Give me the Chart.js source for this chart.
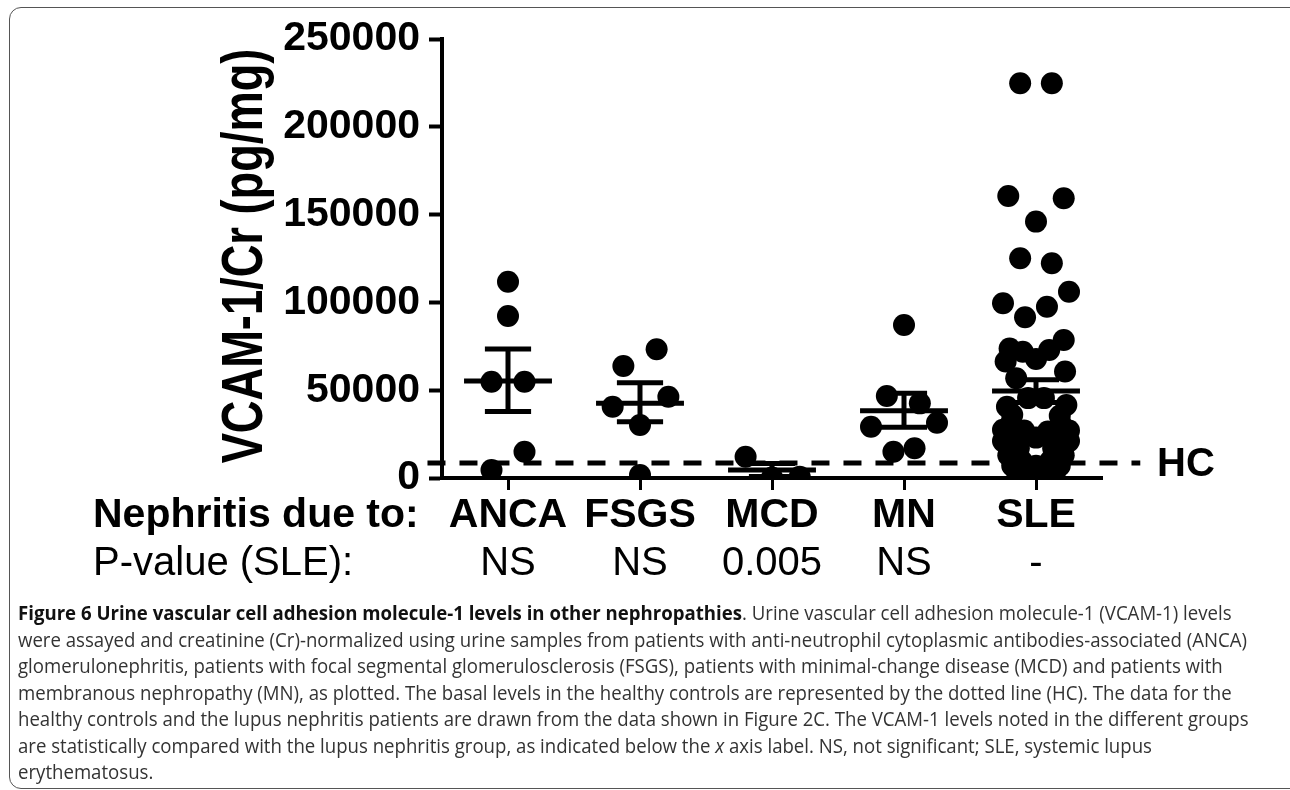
<!DOCTYPE html>
<html>
<head>
<meta charset="utf-8">
<script src="https://cdn.jsdelivr.net/npm/chart.js@4.4.1/dist/chart.umd.min.js"></script>
<style>
  html, body { margin: 0; padding: 0; background: #fff; }
  body { width: 1290px; height: 790px; position: relative; overflow: hidden; }
  #frame { position: absolute; left: 9px; top: 7px; width: 1300px; height: 782px;
           border: 1.5px solid #555; border-radius: 12px; box-sizing: border-box; }
  #chart { position: absolute; left: 0; top: 0; }
  #caption { position: absolute; left: 18px; top: 600px; font-family: "Open Sans", sans-serif;
             font-size: 20px; line-height: 26.5px; color: #333; white-space: nowrap; transform-origin: 0 0; }
  #caption b { color: #111; }
  #caption span { display: inline-block; }
</style>
</head>
<body>
<div id="frame"></div>
<canvas id="chart" width="1290" height="600"></canvas>
<div id="caption">
  <div><span><b>Figure 6 Urine vascular cell adhesion molecule-1 levels in other nephropathies</b>. Urine vascular cell adhesion molecule-1 (VCAM-1) levels</span></div>
  <div><span>were assayed and creatinine (Cr)-normalized using urine samples from patients with anti-neutrophil cytoplasmic antibodies-associated (ANCA)</span></div>
  <div><span>glomerulonephritis, patients with focal segmental glomerulosclerosis (FSGS), patients with minimal-change disease (MCD) and patients with</span></div>
  <div><span>membranous nephropathy (MN), as plotted. The basal levels in the healthy controls are represented by the dotted line (HC). The data for the</span></div>
  <div><span>healthy controls and the lupus nephritis patients are drawn from the data shown in Figure 2C. The VCAM-1 levels noted in the different groups</span></div>
  <div><span>are statistically compared with the lupus nephritis group, as indicated below the <i>x</i> axis label. NS, not significant; SLE, systemic lupus</span></div>
  <div><span>erythematosus.</span></div>
</div>
<script>
// --- Data ---
const categories = ["ANCA", "FSGS", "MCD", "MN", "SLE"];
const pValues = ["NS", "NS", "0.005", "NS", "-"];
const yTitle = "VCAM-1/Cr (pg/mg)";
const rowTitle = "Nephritis due to:";
const pRowTitle = "P-value (SLE):";
const hcLabel = "HC";

const ancaValues = [111800, 92300, 54800, 54800, 15000, 4600];
const ancaOffsets = [0, 0, -0.125, 0.125, 0.125, -0.125];
const fsgsValues = [73300, 63800, 46300, 40600, 30200, 1700];
const fsgsOffsets = [0.126, -0.126, 0.215, -0.207, 0, 0];
const mcdValues = [12100, 300, 700];
const mcdOffsets = [-0.2, 0, 0.21];
const mnValues = [87100, 46700, 42500, 29200, 31500, 15000, 16900];
const mnOffsets = [0, -0.13, 0.12, -0.25, 0.25, -0.08, 0.08];
const sleValues = [
  224800, 224800, 160600, 159300, 146000, 125100, 122300,
  106100, 99500, 97500, 91500, 78600, 73800, 72900, 71900, 67800, 66300,
  60600, 56800,
  45500, 45500, 41600, 40600, 36000, 35500, 31000, 30500,
  27000, 26500, 27500, 27000, 23000,
  21000, 21000, 20500, 20500, 17000, 17000, 13000, 13000,
  10000, 10000, 7000, 7000, 7000, 4000, 4000, 1500, 1500, 1500
];
const sleOffsets = [
  -0.12, 0.12, -0.21, 0.21, 0, -0.12, 0.12,
  0.25, -0.25, 0.083, -0.083, 0.21, -0.2, 0.1, -0.1, 0, -0.23,
  0.22, -0.15,
  -0.06, 0.06, 0.23, -0.22, -0.18, 0.18, -0.19, 0.19,
  -0.09, 0.09, -0.25, 0.25, 0,
  -0.25, 0.25, -0.16, 0.16, -0.13, 0.13, -0.21, 0.21,
  -0.11, 0.11, 0, -0.18, 0.18, -0.08, 0.08, 0, -0.14, 0.14
];

// mean and SEM whiskers as drawn
const groupMeans = [55200, 42500, 4600, 38300, 49500];
const groupUpper = [73500, 54300, 8300, 48200, 56000];
const groupLower = [37800, 32100, 900, 28900, 43000];

const hcLevel = 8500;
const hcFrom = 0.39;
const hcTo = 5.79;

const yMax = 250000;
const yStep = 50000;

const groups = [ancaValues, fsgsValues, mcdValues, mnValues, sleValues];
const offsets = [ancaOffsets, fsgsOffsets, mcdOffsets, mnOffsets, sleOffsets];

const boldFont = '"Liberation Sans", Arial, sans-serif';

// --- Error bars + extra text ---
const extras = {
  id: "extras",
  afterDatasetsDraw(chart) {
    const { ctx, scales: { x, y } } = chart;
    ctx.save();
    ctx.strokeStyle = "#000";
    ctx.lineWidth = 5;
    groupMeans.forEach((m, i) => {
      const cx = x.getPixelForValue(i + 1);
      const half = x.getPixelForValue(1.333) - x.getPixelForValue(1);
      const cap = x.getPixelForValue(1.175) - x.getPixelForValue(1);
      const ym = y.getPixelForValue(m);
      const yu = y.getPixelForValue(groupUpper[i]);
      const yl = y.getPixelForValue(groupLower[i]);
      ctx.beginPath();
      ctx.moveTo(cx - half, ym); ctx.lineTo(cx + half, ym);
      ctx.moveTo(cx, yu); ctx.lineTo(cx, yl);
      ctx.moveTo(cx - cap, yu); ctx.lineTo(cx + cap, yu);
      ctx.moveTo(cx - cap, yl); ctx.lineTo(cx + cap, yl);
      ctx.stroke();
    });
    ctx.restore();
  },
  afterDraw(chart) {
    const { ctx, scales: { x, y } } = chart;
    ctx.save();
    ctx.fillStyle = "#000";

    // y axis title, tall and narrow like the original
    ctx.save();
    ctx.translate(262, 256);
    ctx.rotate(-Math.PI / 2);
    ctx.scale(0.78, 1);
    ctx.font = "bold 58px " + boldFont;
    ctx.textAlign = "center";
    ctx.textBaseline = "alphabetic";
    ctx.fillText(yTitle, 0, 0);
    ctx.restore();

    // row headers
    ctx.textAlign = "left";
    ctx.textBaseline = "middle";
    ctx.font = "bold 41px " + boldFont;
    ctx.fillText(rowTitle, 93, 516);
    ctx.font = "40px " + boldFont;
    ctx.fillText(pRowTitle, 93, 564);

    // p-values
    ctx.textAlign = "center";
    pValues.forEach((p, i) => {
      ctx.fillText(p, x.getPixelForValue(i + 1), 564);
    });

    // HC label
    ctx.textAlign = "left";
    ctx.font = "bold 40px " + boldFont;
    ctx.fillText(hcLabel, 1157, y.getPixelForValue(hcLevel) + 2);
    ctx.restore();
  }
};

const datasets = groups.map((vals, i) => ({
  type: "scatter",
  data: vals.map((v, j) => ({ x: i + 1 + offsets[i][j], y: v })),
  backgroundColor: "#000",
  borderWidth: 0,
  pointRadius: 11,
  pointHoverRadius: 11,
  order: 1
}));
datasets.push({
  type: "line",
  data: [{ x: hcFrom, y: hcLevel }, { x: hcTo, y: hcLevel }],
  borderColor: "#000",
  borderWidth: 5,
  borderDash: [18, 14],
  pointRadius: 0,
  clip: false,
  order: 10
});

new Chart(document.getElementById("chart"), {
  type: "scatter",
  data: { datasets },
  options: {
    responsive: false,
    animation: false,
    devicePixelRatio: 1,
    layout: { padding: { left: 0, right: 188, top: 39, bottom: 0 } },
    plugins: { legend: { display: false }, tooltip: { enabled: false } },
    scales: {
      x: {
        type: "linear",
        min: 0.5,
        max: 5.5,
        afterBuildTicks: s => { s.ticks = categories.map((c, i) => ({ value: i + 1 })); },
        afterFit: s => { s.height = 122; },
        ticks: {
          callback: v => categories[v - 1],
          font: { family: boldFont, weight: "bold", size: 41 },
          color: "#000",
          padding: 1,
          maxRotation: 0,
          autoSkip: false
        },
        grid: { drawOnChartArea: false, drawTicks: true, tickLength: 12, tickWidth: 3, tickColor: "#000" },
        border: { display: true, color: "#000", width: 4 }
      },
      y: {
        min: 0,
        max: yMax,
        afterFit: s => { s.width = 442; },
        ticks: {
          stepSize: yStep,
          callback: v => String(v),
          font: { family: boldFont, weight: "bold", size: 41 },
          color: "#000",
          padding: 9
        },
        grid: { drawOnChartArea: false, drawTicks: true, tickLength: 13, tickWidth: 4, tickColor: "#000" },
        border: { display: true, color: "#000", width: 4 }
      }
    }
  },
  plugins: [extras]
});

// squeeze caption to the width it has in the figure
const cap = document.getElementById("caption");
const line2 = cap.querySelectorAll("span")[1];
const k = (1247 - 18) / line2.getBoundingClientRect().width;
cap.style.transform = "scaleX(" + k.toFixed(4) + ")";
</script>
</body>
</html>
